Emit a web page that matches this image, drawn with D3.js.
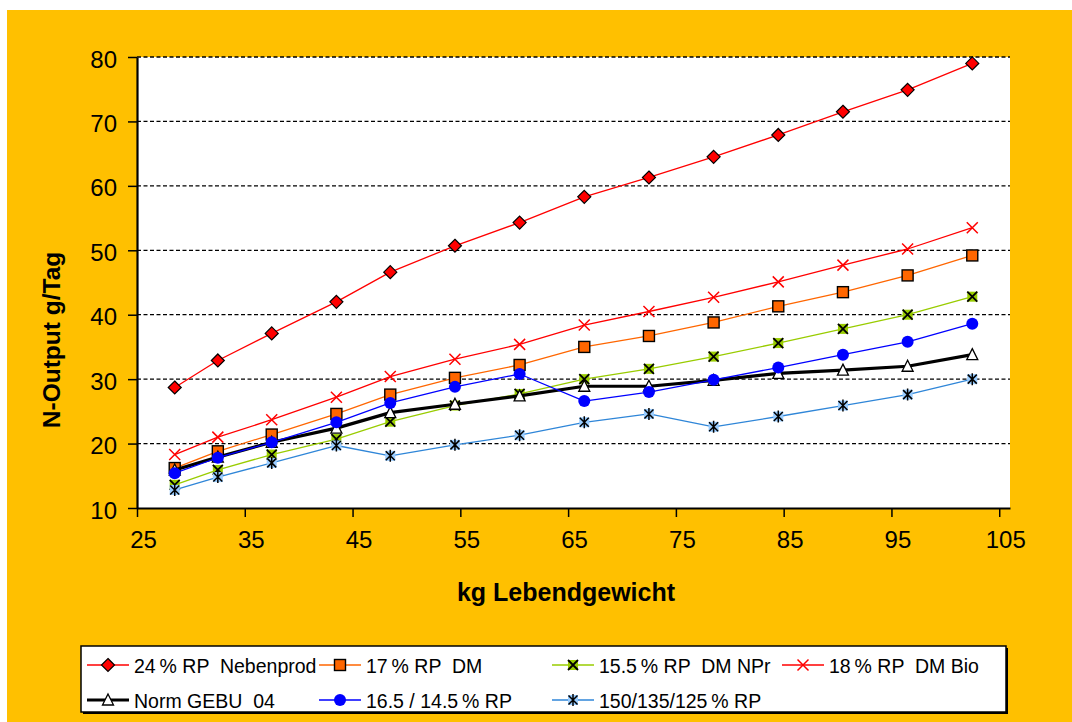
<!DOCTYPE html>
<html>
<head>
<meta charset="utf-8">
<script src="https://cdn.jsdelivr.net/npm/d3@7"></script>
<style>
  html, body { margin: 0; padding: 0; background: #ffffff; }
  svg { display: block; font-family: "Liberation Sans", Arial, sans-serif; }
  text { white-space: pre; }
</style>
</head>
<body>
<svg id="chart" width="1072" height="722"></svg>
<script>
// Live weight (kg) at each sampling point
const weights = [28.5, 32.5, 37.5, 43.5, 48.5, 54.5, 60.5, 66.5, 72.5, 78.5, 84.5, 90.5, 96.5, 102.5];

// N output (g/day) per feeding variant
const rp24Nebenprod = [28.7, 32.9, 37.1, 42.0, 46.6, 50.7, 54.3, 58.3, 61.3, 64.5, 67.9, 71.5, 74.9, 79.0];
const rp17DM        = [16.2, 18.8, 21.4, 24.6, 27.6, 30.2, 32.2, 35.0, 36.7, 38.8, 41.3, 43.5, 46.1, 49.2];
const rp155DMNPr    = [13.6, 15.9, 18.3, 20.7, 23.4, 25.9, 27.7, 30.0, 31.6, 33.5, 35.6, 37.8, 40.0, 42.8];
const rp18DMBio     = [18.3, 21.0, 23.7, 27.2, 30.4, 33.1, 35.4, 38.4, 40.5, 42.7, 45.1, 47.7, 50.2, 53.5];
const normGebu04    = [15.9, 17.9, 20.2, 22.4, 24.8, 26.1, 27.4, 28.9, 28.9, 29.8, 30.9, 31.4, 32.0, 33.8];
const rp165_145     = [15.4, 17.8, 20.2, 23.3, 26.3, 28.8, 30.8, 26.6, 28.0, 29.9, 31.8, 33.8, 35.8, 38.6];
const rp150_135_125 = [12.8, 14.8, 17.0, 19.7, 18.1, 19.8, 21.3, 23.3, 24.6, 22.6, 24.2, 25.9, 27.6, 30.0];

const seriesNames = [
  "24\u2009% RP  Nebenprod",
  "17\u2009% RP  DM",
  "15.5\u2009% RP  DM NPr",
  "18\u2009% RP  DM Bio",
  "Norm GEBU  04",
  "16.5 / 14.5\u2009% RP",
  "150/135/125\u2009% RP"
];
const seriesValues = [rp24Nebenprod, rp17DM, rp155DMNPr, rp18DMBio, normGebu04, rp165_145, rp150_135_125];

// Axis ticks and titles
const xTicks = [25, 35, 45, 55, 65, 75, 85, 95, 105];
const yTicks = [10, 20, 30, 40, 50, 60, 70, 80];
const xTitle = "kg Lebendgewicht";
const yTitle = "N-Output g/Tag";

// Visual style of each series: line colour/width and marker type
const styles = [
  { color: "#ff0000", width: 1.3, marker: "diamond" },
  { color: "#ff6600", width: 1.3, marker: "square" },
  { color: "#99cc00", width: 1.3, marker: "xbox" },
  { color: "#ff0000", width: 1.3, marker: "cross" },
  { color: "#000000", width: 3.2, marker: "triangle" },
  { color: "#0000ff", width: 1.3, marker: "circle" },
  { color: "#2f86d8", width: 1.3, marker: "star" }
];

const svg = d3.select("#chart");

// Orange chart background
svg.append("rect").attr("x", 7).attr("y", 10).attr("width", 1065).attr("height", 712).attr("fill", "#ffc000");

const plot = { left: 137, right: 1010, top: 57, bottom: 508 };
const x = d3.scaleLinear().domain([25, 106]).range([plot.left, plot.right]);
const y = d3.scaleLinear().domain([10, 80]).range([plot.bottom, plot.top]);

// White plot area
svg.append("rect")
  .attr("x", plot.left).attr("y", plot.top)
  .attr("width", plot.right - plot.left).attr("height", plot.bottom - plot.top)
  .attr("fill", "#ffffff");

// Dashed horizontal gridlines
svg.append("g")
  .selectAll("line")
  .data(yTicks.filter(d => d > 10))
  .join("line")
  .attr("x1", plot.left).attr("x2", plot.right)
  .attr("y1", d => y(d)).attr("y2", d => y(d))
  .attr("stroke", "#000").attr("stroke-width", 1.3)
  .attr("stroke-dasharray", "4,2.5");

// Y axis
const yAxis = svg.append("g")
  .attr("transform", `translate(${plot.left},0)`)
  .call(d3.axisLeft(y).tickValues(yTicks).tickSize(9).tickPadding(11).tickSizeOuter(0));
yAxis.select(".domain").attr("stroke", "#000").attr("stroke-width", 2.2);
yAxis.selectAll(".tick line").attr("stroke", "#000").attr("stroke-width", 1.5);
yAxis.selectAll(".tick text")
  .attr("font-size", 24).attr("fill", "#000").attr("dy", "0.42em")
  .attr("font-family", "Liberation Sans, Arial, sans-serif");

// X axis
const xAxis = svg.append("g")
  .attr("transform", `translate(0,${plot.bottom})`)
  .call(d3.axisBottom(x).tickValues(xTicks).tickSize(9).tickPadding(14).tickSizeOuter(0));
xAxis.select(".domain").attr("stroke", "#000").attr("stroke-width", 2.2);
xAxis.selectAll(".tick line").attr("stroke", "#000").attr("stroke-width", 1.5);
xAxis.selectAll(".tick text")
  .attr("font-size", 24).attr("fill", "#000").attr("dx", 6)
  .attr("font-family", "Liberation Sans, Arial, sans-serif");

// Axis titles
svg.append("text")
  .attr("transform", "translate(60,340) rotate(-90)")
  .attr("text-anchor", "middle")
  .attr("font-size", 24.5).attr("font-weight", "bold")
  .text(yTitle);
svg.append("text")
  .attr("x", 566).attr("y", 601)
  .attr("text-anchor", "middle")
  .attr("font-size", 25).attr("font-weight", "bold")
  .text(xTitle);

// Marker drawing
function drawMarker(g, type, color) {
  switch (type) {
    case "diamond":
      g.append("path").attr("d", "M0,-6.5L6.5,0L0,6.5L-6.5,0Z")
        .attr("fill", "#ff0000").attr("stroke", "#000").attr("stroke-width", 1.2);
      break;
    case "square":
      g.append("rect").attr("x", -5.5).attr("y", -5.5).attr("width", 11).attr("height", 11)
        .attr("fill", "#ff6600").attr("stroke", "#000").attr("stroke-width", 1.4);
      break;
    case "xbox":
      g.append("rect").attr("x", -5).attr("y", -5).attr("width", 10).attr("height", 10)
        .attr("fill", "#99cc00");
      g.append("path").attr("d", "M-5,-5L5,5M-5,5L5,-5")
        .attr("stroke", "#000").attr("stroke-width", 1.8);
      break;
    case "cross":
      g.append("path").attr("d", "M-5.5,-5.5L5.5,5.5M-5.5,5.5L5.5,-5.5")
        .attr("stroke", "#ff0000").attr("stroke-width", 1.5);
      break;
    case "triangle":
      g.append("path").attr("d", "M0,-6L5.5,5L-5.5,5Z")
        .attr("fill", "#ffffff").attr("stroke", "#000").attr("stroke-width", 1.3);
      break;
    case "circle":
      g.append("circle").attr("r", 6).attr("fill", "#0000ff");
      break;
    case "star":
      g.append("rect").attr("x", -5).attr("y", -5).attr("width", 10).attr("height", 10)
        .attr("fill", "#99ccff");
      g.append("path").attr("d", "M-4.5,-4.5L4.5,4.5M-4.5,4.5L4.5,-4.5M0,-6L0,6")
        .attr("stroke", "#000").attr("stroke-width", 1.5);
      break;
  }
}

// Series: line first, then markers, series by series
const line = d3.line().x((d, i) => x(weights[i])).y(d => y(d));
seriesValues.forEach((vals, si) => {
  const st = styles[si];
  const g = svg.append("g");
  g.append("path").datum(vals)
    .attr("d", line)
    .attr("fill", "none")
    .attr("stroke", st.color)
    .attr("stroke-width", st.width)
    .attr("stroke-linejoin", "round");
  g.selectAll("g.m")
    .data(vals)
    .join("g").attr("class", "m")
    .attr("transform", (d, i) => `translate(${x(weights[i])},${y(d)})`)
    .each(function () { drawMarker(d3.select(this), st.marker, st.color); });
});

// Legend
const legend = svg.append("g");
legend.append("rect").attr("x", 83).attr("y", 648).attr("width", 925).attr("height", 66).attr("fill", "#000");
legend.append("rect").attr("x", 81).attr("y", 646).attr("width", 925).attr("height", 66)
  .attr("fill", "#ffffff").attr("stroke", "#000").attr("stroke-width", 1.5);

const legCols = [87, 319, 552, 782];
const legRows = [665, 700];
seriesNames.forEach((name, i) => {
  const col = i < 4 ? i : i - 4;
  const row = i < 4 ? 0 : 1;
  const lx = legCols[col], ly = legRows[row];
  const st = styles[i];
  const g = legend.append("g");
  g.append("line").attr("x1", lx).attr("x2", lx + 42).attr("y1", ly).attr("y2", ly)
    .attr("stroke", st.color).attr("stroke-width", st.width);
  const m = g.append("g").attr("transform", `translate(${lx + 21},${ly})`);
  drawMarker(m, st.marker, st.color);
  g.append("text").attr("x", lx + 47).attr("y", ly + 7.5)
    .attr("font-size", 19.5).attr("fill", "#000")
    .text(name);
});
</script>
</body>
</html>
